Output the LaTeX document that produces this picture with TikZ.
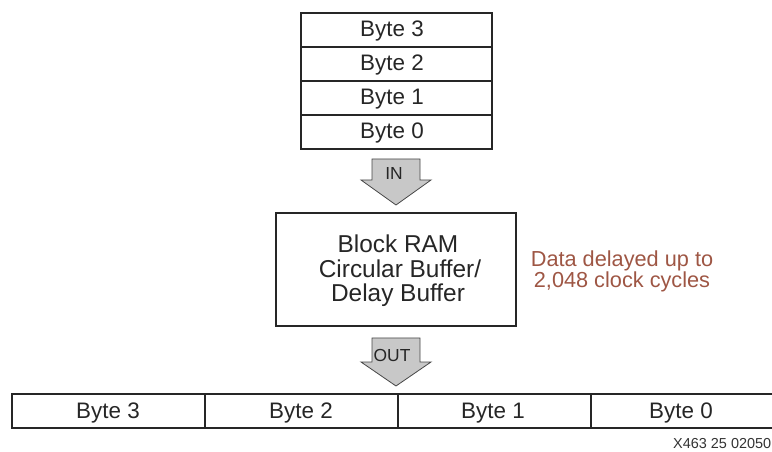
\documentclass[tikz,border=0pt]{standalone}
\usepackage{fontspec}
\setmainfont{Liberation Sans}
\definecolor{brownred}{RGB}{158,86,68}
\definecolor{arrowfill}{RGB}{200,200,200}
\definecolor{arrowline}{RGB}{70,70,70}
\begin{document}
\begin{tikzpicture}[x=1bp,y=-1bp,
  cellbox/.style={draw=black!85,line width=2bp,minimum height=34bp,inner sep=0pt,text=black!85},
  celltext/.style={font=\fontsize{22.5}{24}\selectfont,text=black!85,anchor=base,inner sep=0pt},
  fatarrow/.style={draw=arrowline,line width=0.8bp,fill=arrowfill,line join=miter},
  arrowlabel/.style={font=\fontsize{17.5}{18}\selectfont,text=black!85,anchor=base,inner sep=0pt},
  note/.style={font=\fontsize{21.8}{21.5}\selectfont,text=brownred,align=center,inner sep=0pt},
]
\useasboundingbox (0,0) rectangle (772,452);
\begin{scope}
\clip (0,0) rectangle (772,452);
% top stack
\node[cellbox,minimum width=191bp,anchor=north west] (t3) at (300,12) {};
\node[cellbox,minimum width=191bp,anchor=north west] (t2) at (300,46) {};
\node[cellbox,minimum width=191bp,anchor=north west] (t1) at (300,80) {};
\node[cellbox,minimum width=191bp,anchor=north west] (t0) at (300,114) {};
\node[celltext] (t3l) at (392,37) {Byte 3};
\node[celltext] (t2l) at (392,71) {Byte 2};
\node[celltext] (t1l) at (392,105) {Byte 1};
\node[celltext] (t0l) at (392,139) {Byte 0};
% IN arrow
\draw[fatarrow] (372,159) -- (420,159) -- (420,180) -- (431,180) -- (396,205) -- (361,180) -- (372,180) -- cycle;
\node[arrowlabel] (in) at (394,180) {IN};
% block ram
\node[draw=black!85,line width=2bp,minimum width=240bp,minimum height=113bp,anchor=north west,inner sep=0pt] (ram) at (275,212) {};
\node[font=\fontsize{24.5}{24.5}\selectfont,text=black!85,anchor=base,inner sep=0pt] (r1) at (398,253) {Block RAM};
\node[font=\fontsize{24.5}{24.5}\selectfont,text=black!85,anchor=base,inner sep=0pt] (r2) at (400,278) {Circular Buffer/};
\node[font=\fontsize{24.5}{24.5}\selectfont,text=black!85,anchor=base,inner sep=0pt] (r3) at (398,302) {Delay Buffer};
\node[note,anchor=base] (d) at (622,288) {Data delayed up to\\2,048 clock cycles};
% OUT arrow
\draw[fatarrow] (372,338) -- (420,338) -- (420,362) -- (431,362) -- (396,386) -- (361,362) -- (372,362) -- cycle;
\node[arrowlabel] (out) at (392,362) {OUT};
% bottom row
\node[cellbox,minimum width=193bp,anchor=north west] (b3) at (11,393) {};
\node[cellbox,minimum width=193bp,anchor=north west] (b2) at (204,393) {};
\node[cellbox,minimum width=193bp,anchor=north west] (b1) at (397,393) {};
\node[cellbox,minimum width=193bp,anchor=north west] (b0) at (590,393) {};
\node[celltext] (b3l) at (108,418) {Byte 3};
\node[celltext] (b2l) at (301,418) {Byte 2};
\node[celltext] (b1l) at (493,418) {Byte 1};
\node[celltext] (b0l) at (681,418) {Byte 0};
\node[font=\fontsize{14.5}{15}\selectfont,text=black!80,anchor=base west,inner sep=0pt] (fig) at (673,448) {X463 25 02050};
\end{scope}
\end{tikzpicture}
\end{document}
